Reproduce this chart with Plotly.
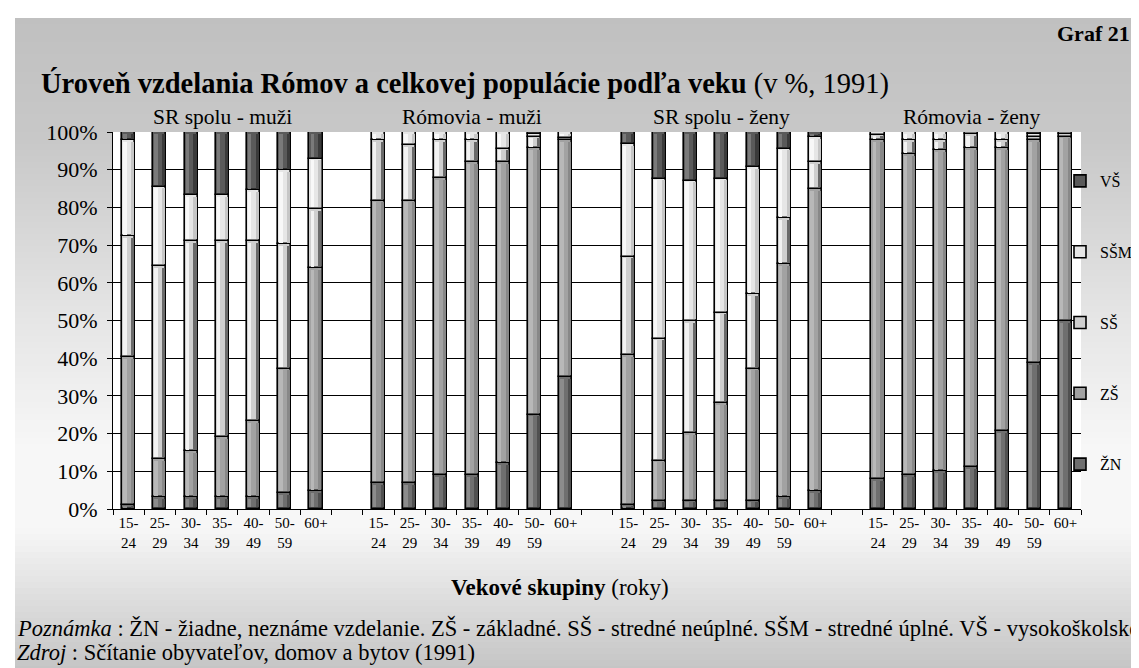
import numpy as np
import plotly.graph_objects as go

# ---------------- data ----------------
groups = ["SR spolu - muži", "Rómovia - muži", "SR spolu - ženy", "Rómovia - ženy"]
ages = ["15-<br>24", "25-<br>29", "30-<br>34", "35-<br>39", "40-<br>49", "50-<br>59", "60+"]
series_names = ["ŽN", "ZŠ", "SŠ", "SŠM", "VŠ"]

# values (%) in order: group1 ages..., group2 ages..., group3..., group4...
zn = [1.1, 3.1, 3.1, 3.1, 3.1, 4.2, 4.7,
      6.9, 6.9, 9.0, 9.0, 12.1, 25.0, 35.0,
      1.1, 2.2, 2.2, 2.2, 2.2, 3.1, 4.7,
      8.0, 9.0, 10.0, 11.1, 20.7, 38.7, 49.9]
zs = [39.2, 10.2, 12.2, 16.0, 20.2, 33.0, 59.1,
      74.9, 74.9, 78.8, 83.0, 79.9, 70.7, 62.8,
      39.7, 10.6, 18.0, 25.9, 35.0, 61.8, 80.2,
      89.8, 85.1, 85.1, 84.6, 75.0, 59.1, 48.9]
ss = [32.0, 51.2, 55.8, 52.0, 47.8, 33.0, 15.8,
      16.0, 14.8, 10.0, 5.8, 3.6, 3.1, 0.7,
      26.1, 32.4, 29.7, 24.0, 19.7, 12.2, 7.1,
      1.5, 3.7, 2.7, 3.8, 2.1, 0.9, 0.6]
ssm = [25.5, 21.0, 12.2, 12.2, 13.4, 19.6, 13.3,
       2.2, 3.4, 2.2, 2.2, 4.4, 0.6, 1.5,
       29.9, 42.4, 37.2, 35.5, 33.8, 18.5, 6.7,
       0.7, 2.2, 2.2, 0.5, 2.2, 0.8, 0.6]
vs = [2.2, 14.5, 16.7, 16.7, 15.5, 10.2, 7.1,
      0.0, 0.0, 0.0, 0.0, 0.0, 0.6, 0.0,
      3.2, 12.4, 12.9, 12.4, 9.3, 4.4, 1.3,
      0.0, 0.0, 0.0, 0.0, 0.0, 0.5, 0.0]

series_values = [zn, zs, ss, ssm, vs]

# ---------------- styling ----------------
FONT = "Liberation Serif, Times New Roman, serif"
mid_col = ["#6f6f6f", "#a2a2a2", "#cfcfcf", "#e6e6e6", "#5a5a5a"]
left_col = ["#8c8c8c", "#b8b8b8", "#f2f2f2", "#f8f8f8", "#7a7a7a"]
right_col = ["#505050", "#888888", "#6a6a6a", "#c6c6c6", "#3a3a3a"]

W, H = 1139, 668
L, R, T, B = 105, 1073, 124, 501
pw, ph = R - L, B - T


def px_x(p):
    return (p - L) / pw


def px_y(p):
    return (B - p) / ph


n_ages = len(ages)
xpos = np.array([g * (n_ages + 1) + i for g in range(len(groups)) for i in range(n_ages)], dtype=float)

fig = go.Figure()
bw = 0.42
cum = np.zeros(len(xpos))
nser = len(series_names)
for k, (name, vals) in enumerate(zip(series_names, series_values)):
    v = np.array(vals, dtype=float)
    fig.add_trace(go.Bar(
        x=xpos, y=v, base=cum.copy(), name=name, width=bw,
        marker=dict(color=mid_col[k], line=dict(color="black", width=1.6)),
        legendgroup=name, legendrank=nser - k, showlegend=True, hoverinfo="skip"))
    inset = 0.45
    h = np.clip(v - 2 * inset, 0, None)
    fig.add_trace(go.Bar(
        x=xpos, y=h, base=cum + inset, width=0.11, offset=-0.175,
        marker=dict(color=left_col[k], line=dict(width=0)),
        legendgroup=name, showlegend=False, hoverinfo="skip"))
    fig.add_trace(go.Bar(
        x=xpos, y=h, base=cum + inset, width=0.10, offset=0.075,
        marker=dict(color=right_col[k], line=dict(width=0)),
        legendgroup=name, showlegend=False, hoverinfo="skip"))
    cum = cum + v

# ---------------- background gradient ----------------
stops = [(10, 192), (130, 200), (300, 228), (440, 247), (520, 247), (590, 222), (668, 194)]
shapes = []
ys = np.arange(10, 668, 6)
for y0 in ys:
    y1 = min(y0 + 6, 668)
    yc = (y0 + y1) / 2
    g = int(round(np.interp(yc, [s[0] for s in stops], [s[1] for s in stops])))
    shapes.append(dict(type="rect", xref="paper", yref="paper", layer="below",
                       x0=px_x(7), x1=px_x(W + 2), y0=px_y(y1 + 0.5), y1=px_y(y0),
                       fillcolor=f"rgb({g},{g},{g})", line=dict(width=0)))
shapes.append(dict(type="rect", xref="paper", yref="paper", layer="below",
                   x0=0, x1=1, y0=0, y1=1, fillcolor="white", line=dict(width=0)))

# ---------------- annotations ----------------
ann = []
ann.append(dict(text="<b>Graf 21</b>", x=px_x(1124), y=px_y(26), xref="paper", yref="paper",
                xanchor="right", yanchor="middle", showarrow=False,
                font=dict(family=FONT, size=22, color="black")))
ann.append(dict(text="<b>Úroveň vzdelania Rómov a celkovej populácie podľa veku</b> (v %, 1991)",
                x=px_x(31), y=px_y(76), xref="paper", yref="paper",
                xanchor="left", yanchor="middle", showarrow=False,
                font=dict(family=FONT, size=28.5, color="black")))
for g, gname in enumerate(groups):
    ann.append(dict(text=gname, x=g * (n_ages + 1) + (n_ages - 1) / 2, y=px_y(109),
                    xref="x", yref="paper", xanchor="center", yanchor="middle", showarrow=False,
                    font=dict(family=FONT, size=21.5, color="black")))
ann.append(dict(text="<b>Vekové skupiny</b> (roky)", x=px_x(552), y=px_y(579),
                xref="paper", yref="paper", xanchor="center", yanchor="middle", showarrow=False,
                font=dict(family=FONT, size=23, color="black")))
ann.append(dict(text="<i>Poznámka</i> : ŽN - žiadne, neznáme vzdelanie. ZŠ - základné. SŠ - stredné neúplné. "
                     "SŠM - stredné úplné. VŠ - vysokoškolské",
                x=px_x(7), y=px_y(620), xref="paper", yref="paper", xanchor="left", yanchor="middle",
                showarrow=False, font=dict(family=FONT, size=22.5, color="black")))
ann.append(dict(text="<i>Zdroj</i> : Sčítanie obyvateľov, domov a bytov (1991)",
                x=px_x(7), y=px_y(644), xref="paper", yref="paper", xanchor="left", yanchor="middle",
                showarrow=False, font=dict(family=FONT, size=22.5, color="black")))

fig.update_layout(
    width=W, height=H,
    margin=dict(l=L, r=W - R, t=T, b=H - B, autoexpand=False),
    paper_bgcolor="white", plot_bgcolor="white",
    barmode="overlay", bargap=0,
    shapes=shapes, annotations=ann,
    showlegend=True,
    legend=dict(x=px_x(1052), y=px_y(156), xanchor="left", yanchor="top",
                traceorder="grouped", tracegroupgap=47,
                bgcolor="rgba(0,0,0,0)", font=dict(family=FONT, size=16, color="black"),
                itemwidth=30),
    xaxis=dict(range=[-0.5, xpos.max() + 0.5], tickvals=xpos, ticktext=ages * len(groups),
               ticks="", showgrid=False, zeroline=False, showline=True, linecolor="black", linewidth=1,
               tickfont=dict(family=FONT, size=15, color="black"),
               minor=dict(tick0=-0.5, dtick=1, ticks="outside", ticklen=5, tickcolor="black",
                          showgrid=False)),
    yaxis=dict(range=[0, 100], dtick=10, ticksuffix="%", ticks="outside", ticklen=5,
               tickcolor="black", showgrid=True, gridcolor="black", gridwidth=1,
               zeroline=False, showline=True, linecolor="black", linewidth=1,
               tickfont=dict(family=FONT, size=22, color="black"), ticklabelstandoff=5),
)

fig.write_html("out.html")
